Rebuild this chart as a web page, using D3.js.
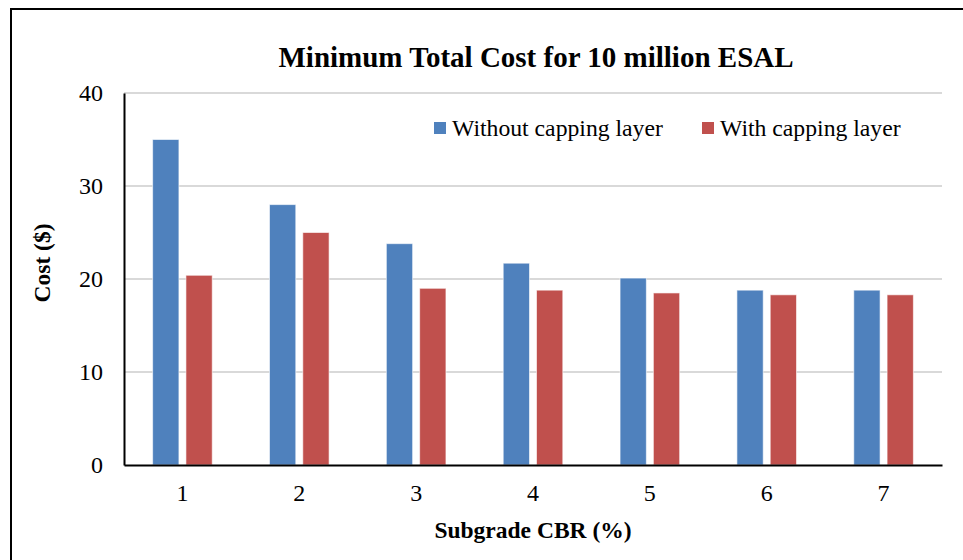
<!DOCTYPE html>
<html><head><meta charset="utf-8">
<script src="https://cdn.jsdelivr.net/npm/d3@7"></script>
<style>body{margin:0;background:#fff}svg{display:block}</style>
</head><body>
<svg id="c" width="963" height="560"></svg>
<script>
const categories = ["1","2","3","4","5","6","7"];
const seriesNames = ["Without capping layer","With capping layer"];
const withoutCapping = [35, 28, 23.8, 21.7, 20.1, 18.8, 18.8];
const withCapping = [20.4, 25, 19.0, 18.8, 18.5, 18.3, 18.3];
const yTicks = [0, 10, 20, 30, 40];
const colors = ["#4F81BD", "#C0504D"];

const svg = d3.select("#c");
const L = 124, R = 942, T = 93, B = 465;
const font = "'Liberation Serif','Times New Roman',serif";

svg.append("rect").attr("x", 11).attr("y", 9).attr("width", 980).attr("height", 600)
  .attr("fill", "#fff").attr("stroke", "#000").attr("stroke-width", 2);

const x = d3.scaleBand().domain(categories).range([L, R]);
const y = d3.scaleLinear().domain([0, 40]).range([B, T]);

// gridlines
svg.append("g").selectAll("line").data(yTicks.filter(d => d > 0)).join("line")
  .attr("x1", L).attr("x2", R).attr("y1", d => y(d)).attr("y2", d => y(d))
  .attr("stroke", "#d9d9d9").attr("stroke-width", 2);

const bw = x.bandwidth() * 0.225, gap = x.bandwidth() * 0.06;
const series = [withoutCapping, withCapping];
series.forEach((vals, si) => {
  svg.append("g").selectAll("rect").data(vals).join("rect")
    .attr("x", (d, i) => x.bandwidth() / 2 + x(categories[i]) + (si === 0 ? -gap / 2 - bw : gap / 2))
    .attr("width", bw)
    .attr("y", d => y(d)).attr("height", d => B - y(d))
    .attr("fill", colors[si]).attr("stroke", "#fff").attr("stroke-opacity", 0.6).attr("stroke-width", 1);
});

// axes
const yAxis = svg.append("g").attr("transform", `translate(${L},0)`)
  .call(d3.axisLeft(y).tickValues(yTicks).tickSize(0).tickPadding(21));
yAxis.select(".domain").attr("stroke", "#000").attr("stroke-width", 2);
yAxis.selectAll("text").attr("font-family", font).attr("font-size", 24).attr("fill", "#000").attr("dy", "0.32em");

const xAxis = svg.append("g").attr("transform", `translate(0,${B})`)
  .call(d3.axisBottom(x).tickSize(0).tickPadding(19));
xAxis.select(".domain").attr("stroke", "#000").attr("stroke-width", 2);
xAxis.selectAll("text").attr("font-family", font).attr("font-size", 24).attr("fill", "#000");

// title
svg.append("text").attr("x", 536).attr("y", 67).attr("text-anchor", "middle")
  .attr("font-family", font).attr("font-weight", "bold").attr("font-size", 29)
  .text("Minimum Total Cost for 10 million ESAL");

svg.append("text").attr("x", 533).attr("y", 538).attr("text-anchor", "middle")
  .attr("font-family", font).attr("font-weight", "bold").attr("font-size", 23.5)
  .text("Subgrade CBR (%)");

svg.append("text").attr("transform", "translate(50,263) rotate(-90)").attr("text-anchor", "middle")
  .attr("font-family", font).attr("font-weight", "bold").attr("font-size", 23.5)
  .text("Cost ($)");

// legend
const legX = [434, 702];
seriesNames.forEach((n, i) => {
  svg.append("rect").attr("x", legX[i]).attr("y", 122).attr("width", 12).attr("height", 12).attr("fill", colors[i]);
  svg.append("text").attr("x", legX[i] + 18).attr("y", 136).attr("font-family", font).attr("font-size", 23.7).text(n);
});
</script>
</body></html>
